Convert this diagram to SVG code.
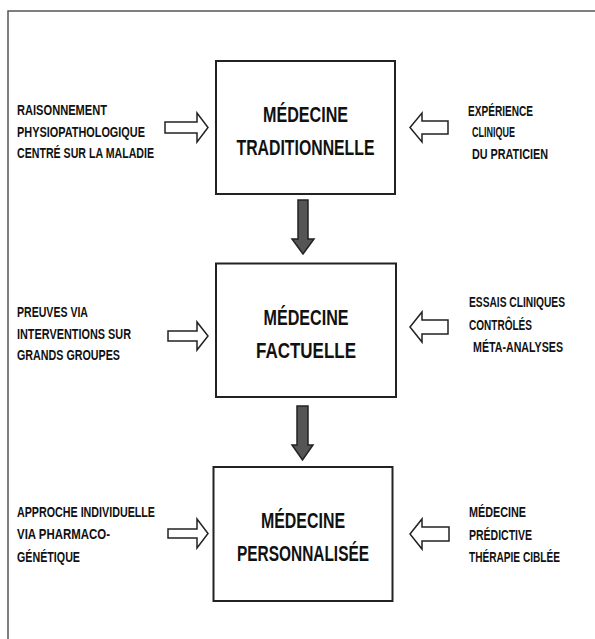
<svg xmlns="http://www.w3.org/2000/svg" width="595" height="639" viewBox="0 0 595 639">
<style>
.frame{fill:none;stroke:#555;stroke-width:1.5}
.box{fill:#fff;stroke:#222;stroke-width:2}
.side{font-family:"Liberation Sans",Arial,sans-serif;font-weight:bold;font-size:14px;fill:#111}
.title{font-family:"Liberation Sans",Arial,sans-serif;font-weight:bold;font-size:22px;fill:#111;text-anchor:middle}
.harrow{fill:#fff;stroke:#222;stroke-width:1.5;stroke-linejoin:miter}
.varrow{fill:#555;stroke:#222;stroke-width:1.5}
</style>
<rect width="595" height="639" fill="#fff"/>
<rect class="frame" x="8" y="11" width="600" height="640"/>

<g id="node-traditionnelle">
<rect class="box" x="216" y="61" width="179" height="133"/>
<text class="title" x="305.5" y="122" textLength="85" lengthAdjust="spacingAndGlyphs">MÉDECINE</text>
<text class="title" x="305.5" y="155" textLength="138" lengthAdjust="spacingAndGlyphs">TRADITIONNELLE</text>
</g>
<g id="node-factuelle">
<rect class="box" x="216" y="263.5" width="180" height="133.5"/>
<text class="title" x="306" y="325" textLength="85" lengthAdjust="spacingAndGlyphs">MÉDECINE</text>
<text class="title" x="306" y="358" textLength="100" lengthAdjust="spacingAndGlyphs">FACTUELLE</text>
</g>
<g id="node-personnalisee">
<rect class="box" x="213.5" y="467" width="179" height="134"/>
<text class="title" x="303" y="528" textLength="84" lengthAdjust="spacingAndGlyphs">MÉDECINE</text>
<text class="title" x="303" y="561" textLength="132" lengthAdjust="spacingAndGlyphs">PERSONNALISÉE</text>
</g>

<g id="label-raisonnement">
<text class="side" x="17" y="115" textLength="90" lengthAdjust="spacingAndGlyphs">RAISONNEMENT</text>
<text class="side" x="17" y="136.5" textLength="128" lengthAdjust="spacingAndGlyphs">PHYSIOPATHOLOGIQUE</text>
<text class="side" x="17" y="158" textLength="137" lengthAdjust="spacingAndGlyphs">CENTRÉ SUR LA MALADIE</text>
</g>
<g id="label-experience">
<text class="side" x="468" y="116" textLength="65" lengthAdjust="spacingAndGlyphs">EXPÉRIENCE</text>
<text class="side" x="472" y="137" textLength="43" lengthAdjust="spacingAndGlyphs">CLINIQUE</text>
<text class="side" x="472" y="159" textLength="76" lengthAdjust="spacingAndGlyphs">DU PRATICIEN</text>
</g>
<g id="label-preuves">
<text class="side" x="17" y="317" textLength="71" lengthAdjust="spacingAndGlyphs">PREUVES VIA</text>
<text class="side" x="17" y="338.5" textLength="114" lengthAdjust="spacingAndGlyphs">INTERVENTIONS SUR</text>
<text class="side" x="17" y="360" textLength="103" lengthAdjust="spacingAndGlyphs">GRANDS GROUPES</text>
</g>
<g id="label-essais">
<text class="side" x="469" y="307" textLength="96" lengthAdjust="spacingAndGlyphs">ESSAIS CLINIQUES</text>
<text class="side" x="469" y="330" textLength="63" lengthAdjust="spacingAndGlyphs">CONTRÔLÉS</text>
<text class="side" x="473" y="352" textLength="90" lengthAdjust="spacingAndGlyphs">MÉTA-ANALYSES</text>
</g>
<g id="label-approche">
<text class="side" x="17" y="517" textLength="138" lengthAdjust="spacingAndGlyphs">APPROCHE INDIVIDUELLE</text>
<text class="side" x="17" y="538.5" textLength="93" lengthAdjust="spacingAndGlyphs">VIA PHARMACO-</text>
<text class="side" x="17" y="561.5" textLength="63" lengthAdjust="spacingAndGlyphs">GÉNÉTIQUE</text>
</g>
<g id="label-predictive">
<text class="side" x="469" y="517" textLength="57" lengthAdjust="spacingAndGlyphs">MÉDECINE</text>
<text class="side" x="469" y="540" textLength="63" lengthAdjust="spacingAndGlyphs">PRÉDICTIVE</text>
<text class="side" x="469" y="561.5" textLength="91" lengthAdjust="spacingAndGlyphs">THÉRAPIE CIBLÉE</text>
</g>

<g id="connectors">
<path class="harrow" d="M165,122 H197 V113 L208,127.5 L197,142 V133 H165 Z"/>
<path class="harrow" d="M448,121 H422 V113 L410,127.5 L422,142 V134 H448 Z"/>
<path class="harrow" d="M168,331 H197 V322 L208,336 L197,350 V341 H168 Z"/>
<path class="harrow" d="M448,320 H422 V312 L410,327 L422,342 V334 H448 Z"/>
<path class="harrow" d="M168,529 H197 V519 L208,533.5 L197,548 V538 H168 Z"/>
<path class="harrow" d="M449,527 H422 V519 L410,534 L422,549 V541 H449 Z"/>
<path class="varrow" d="M298,200 H308 V239 H314 L303,254 L292,239 H298 Z"/>
<path class="varrow" d="M297,406 H308 V445 H313 L302.5,460 L292,445 H297 Z"/>
</g>
</svg>
